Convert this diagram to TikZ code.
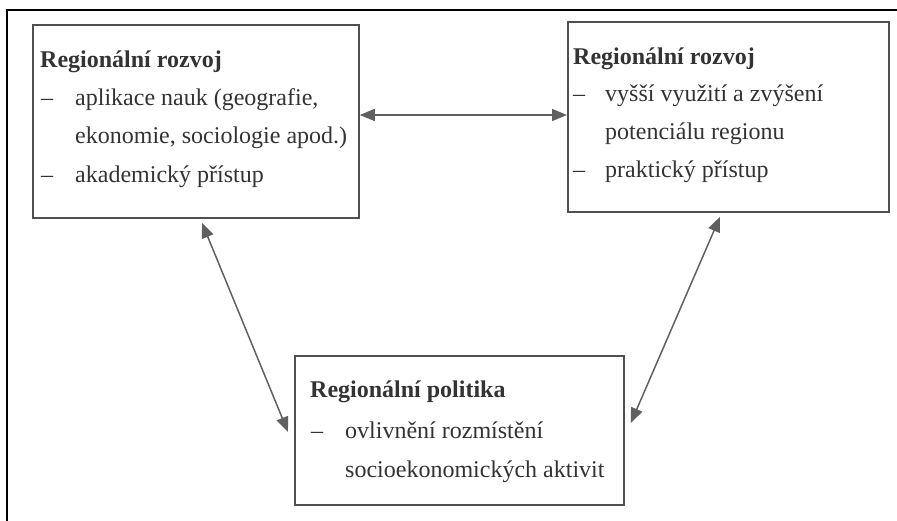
\documentclass[tikz,border=0pt]{standalone}
\usepackage{fontspec}
\setmainfont{Liberation Serif}
\usetikzlibrary{arrows.meta,calc}
\definecolor{txtc}{HTML}{333333}
\definecolor{linec}{HTML}{505050}
\definecolor{arrc}{HTML}{606060}
\tikzset{
  box/.style={draw=linec, line width=1.8pt, anchor=north west, inner sep=0pt},
  txt/.style={anchor=base west, inner sep=0pt, text=txtc, font=\fontsize{24}{29}\selectfont},
  ttl/.style={txt, font=\fontsize{24}{29}\selectfont\bfseries},
  arr/.style={draw=arrc, line width=1.5pt, {Triangle[length=15pt,width=12pt]}-{Triangle[length=15pt,width=12pt]}},
  frame/.style={draw=black, line width=1.2pt}
}
\begin{document}
\begin{tikzpicture}[x=1pt,y=-1pt]
\useasboundingbox (0,0) rectangle (897,521);
\draw[frame] (7,521) -- (7,10) -- (897,10);
% boxes
\node[box, minimum width=326pt, minimum height=193pt] (b1) at (32,24) {};
\node[box, minimum width=321pt, minimum height=190pt] (b2) at (567,21) {};
\node[box, minimum width=329pt, minimum height=149pt] (b3) at (294,355) {};
% box 1 text
\node[ttl] (b1t) at (40,68) {Regionální rozvoj};
\node[txt] (b1d1) at (41,106) {–};
\node[txt] (b1a) at (75,106) {aplikace nauk (geografie,};
\node[txt] (b1b) at (75,144) {ekonomie, sociologie apod.)};
\node[txt] (b1d2) at (41,183) {–};
\node[txt] (b1c) at (75,183) {akademický přístup};
% box 2 text
\node[ttl] (b2t) at (573,65) {Regionální rozvoj};
\node[txt] (b2d1) at (573,102) {–};
\node[txt] (b2a) at (605,102) {vyšší využití a zvýšení};
\node[txt] (b2b) at (605,140) {potenciálu regionu};
\node[txt] (b2d2) at (573,178) {–};
\node[txt] (b2c) at (605,178) {praktický přístup};
% box 3 text
\node[ttl] (b3t) at (310,397) {Regionální politika};
\node[txt] (b3d1) at (311,438) {–};
\node[txt] (b3a) at (345,438) {ovlivnění rozmístění};
\node[txt] (b3b) at (345,477) {socioekonomických aktivit};
% arrows
\draw[arr] (b1.east |- 0,115) -- (b2.west |- 0,115);
\draw[arr] ($(b1.south west)+(170,4)$) -- ($(b3.north west)+(-6,77)$);
\draw[arr] ($(b2.south west)+(153,4)$) -- ($(b3.north east)+(6,68)$);
\end{tikzpicture}
\end{document}
